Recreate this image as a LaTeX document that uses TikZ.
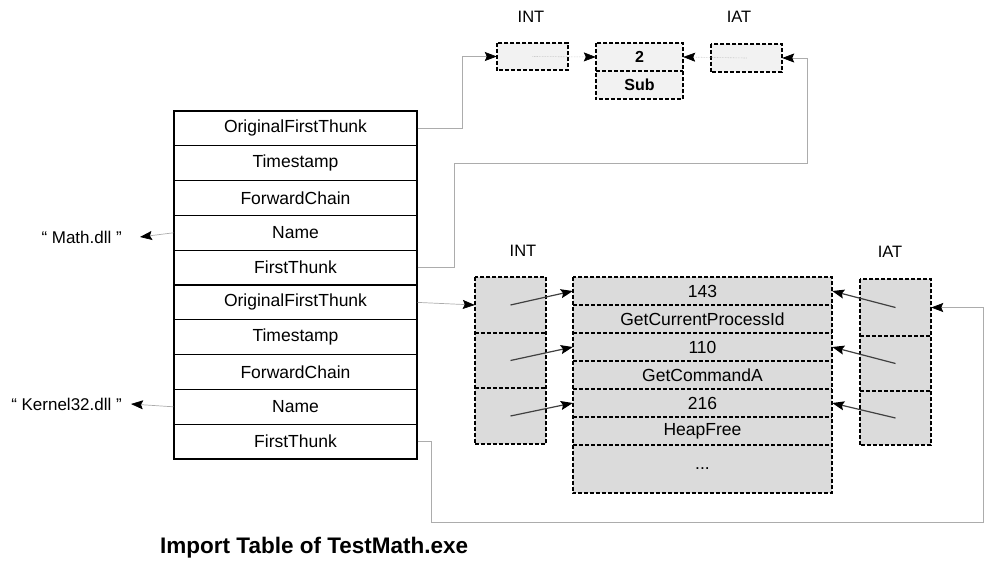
\documentclass[tikz,border=0pt]{standalone}
\usepackage{fontspec}
\setmainfont{Liberation Sans}
\usetikzlibrary{arrows.meta,calc}
\begin{document}
\begin{tikzpicture}[x=1pt,y=-1pt,
  row/.style={draw, line width=1.2pt, minimum width=243pt, minimum height=34.8pt, inner sep=0pt, font=\fontsize{17.5}{19}\selectfont},
  lcell/.style={fill=gray!28, minimum width=259pt, minimum height=28pt, inner sep=0pt, font=\fontsize{17.5}{19}\selectfont},
  tcell/.style={fill=gray!28, minimum width=71pt, inner sep=0pt},
  topcell/.style={fill=gray!10, inner sep=0pt, font=\bfseries\fontsize{16}{18}\selectfont},
  dbox/.style={line width=1.5pt, dash pattern=on 4pt off 2pt},
  conn/.style={draw=gray!65, line width=0.7pt},
  arrowtip/.style={-{Stealth[length=12pt,width=9pt,inset=2pt,color=black]}},
  ptr/.style={draw=black!75, line width=1.2pt},
  lbl/.style={font=\fontsize{16.5}{18}\selectfont, inner sep=0pt},
  dll/.style={font=\fontsize{17}{19}\selectfont, inner ysep=0pt, anchor=east},
]
\useasboundingbox (0,0) rectangle (984,560);

% ---------- import descriptor table ----------
\node[row] (ofth1) at (295.5,128.4) {OriginalFirstThunk};
\node[row] (ts1)   at (295.5,163.2) {Timestamp};
\node[row] (fc1)   at (295.5,198.0) {ForwardChain};
\node[row] (name1) at (295.5,232.8) {Name};
\node[row] (ft1)   at (295.5,267.6) {FirstThunk};
\node[row] (ofth2) at (295.5,302.4) {OriginalFirstThunk};
\node[row] (ts2)   at (295.5,337.2) {Timestamp};
\node[row] (fc2)   at (295.5,372.0) {ForwardChain};
\node[row] (name2) at (295.5,406.8) {Name};
\node[row] (ft2)   at (295.5,441.6) {FirstThunk};

\node[dll, inner xsep=18pt] (mathlbl) at (140,237) {“ Math.dll ”};
\node[dll, inner xsep=9pt]  (kernlbl) at (131,404) {“ Kernel32.dll ”};

\node[font=\bfseries\fontsize{22.5}{25}\selectfont, anchor=west, inner sep=0pt] (title) at (160,548) {Import Table of TestMath.exe};

% ---------- top (Math.dll) thunks ----------
\node[lbl] (intlbl1) at (531,17) {INT};
\node[lbl] (iatlbl1) at (739,17) {IAT};

\node[topcell, minimum width=71pt, minimum height=27pt] (inttop) at (532.5,56.5) {};
\node[topcell, minimum width=87pt, minimum height=28pt] (two) at (639.5,57) {2};
\node[topcell, minimum width=87pt, minimum height=28pt] (sub) at (639.5,85) {Sub};
\node[topcell, minimum width=71pt, minimum height=28pt] (iattop) at (746.5,58) {};

\draw[dbox] (inttop.north west) rectangle (inttop.south east);
\draw[dbox] (two.north west) rectangle (sub.south east);
\draw[dbox] (sub.north west) -- (sub.north east);
\draw[dbox] (iattop.north west) rectangle (iattop.south east);

\draw[draw=gray!55, line width=0.6pt, densely dotted, arrowtip] (inttop.center) -- (two.west);
\draw[draw=gray!55, line width=0.6pt, densely dotted, arrowtip] (iattop.center) -- (two.east);

% ---------- lower (Kernel32.dll) thunks ----------
\node[lbl] (intlbl2) at (523,251) {INT};
\node[lbl] (iatlbl2) at (890,252) {IAT};

\node[tcell, minimum height=56pt] (int1) at (510.5,305) {};
\node[tcell, minimum height=55pt] (int2) at (510.5,360.5) {};
\node[tcell, minimum height=56pt] (int3) at (510.5,416) {};

\node[lcell] (c143) at (702.5,291) {143};
\node[lcell] (cgcp) at (702.5,319) {GetCurrentProcessId};
\node[lcell] (c110) at (702.5,347) {110};
\node[lcell] (cgca) at (702.5,375) {GetCommandA};
\node[lcell] (c216) at (702.5,403) {216};
\node[lcell] (chf)  at (702.5,431) {HeapFree};
\node[lcell, minimum height=48pt] (cdots) at (702.5,469) {...};

\node[tcell, minimum height=57pt] (iat1) at (895.5,307.5) {};
\node[tcell, minimum height=55pt] (iat2) at (895.5,363.5) {};
\node[tcell, minimum height=54pt] (iat3) at (895.5,418) {};

\draw[dbox] (int1.north west) rectangle (int3.south east);
\draw[dbox] (int2.north west) -- (int2.north east);
\draw[dbox] (int3.north west) -- (int3.north east);

\draw[dbox] (c143.north west) rectangle (cdots.south east);
\foreach \c in {cgcp,c110,cgca,c216,chf,cdots}
  \draw[dbox] (\c.north west) -- (\c.north east);

\draw[dbox] (iat1.north west) rectangle (iat3.south east);
\draw[dbox] (iat2.north west) -- (iat2.north east);
\draw[dbox] (iat3.north west) -- (iat3.north east);

\draw[ptr, arrowtip] (int1.center) -- (c143.west);
\draw[ptr, arrowtip] (int2.center) -- (c110.west);
\draw[ptr, arrowtip] (int3.center) -- (c216.west);
\draw[ptr, arrowtip] (iat1.center) -- (c143.east);
\draw[ptr, arrowtip] (iat2.center) -- (c110.east);
\draw[ptr, arrowtip] (iat3.center) -- (c216.east);

% ---------- connectors from the table ----------
\draw[conn, arrowtip] (ofth1.east) -- ++(45,0) |- (inttop.west);
\draw[conn, arrowtip] (ft1.east) -| (454,163) -| (807,58) -- (iattop.east);
\draw[conn, arrowtip] (ofth2.east) -- (int1.west);
\draw[conn, arrowtip] (ft2.east) -| (431,522) -| (983,307.5) -- (iat1.east);
\draw[conn, arrowtip] (name1.west) -- (mathlbl.east);
\draw[conn, arrowtip] (name2.west) -- (kernlbl.east);
\end{tikzpicture}
\end{document}
